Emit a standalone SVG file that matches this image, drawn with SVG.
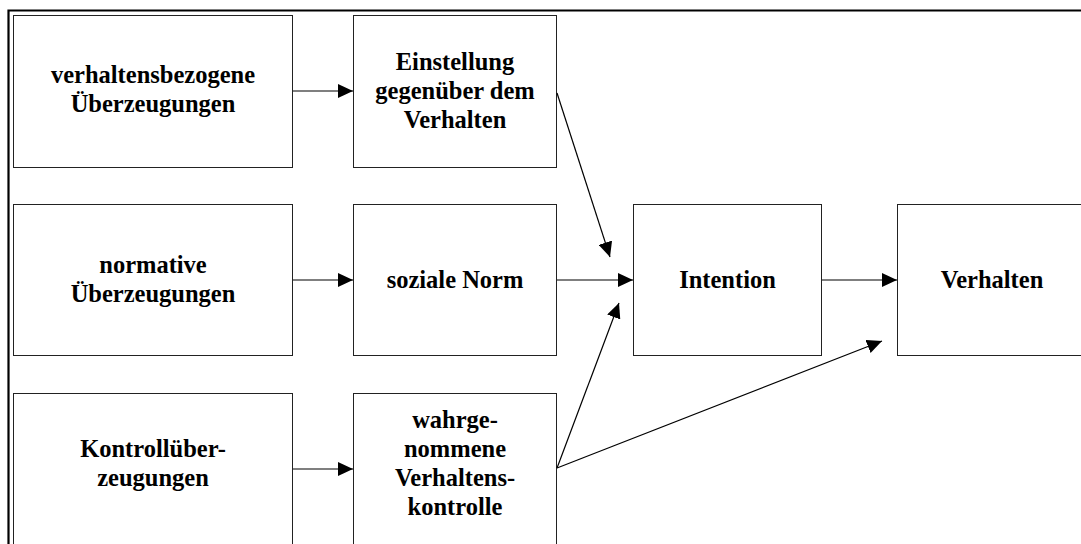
<svg xmlns="http://www.w3.org/2000/svg" width="1081" height="544" viewBox="0 0 1081 544">
<style>
.box{fill:#fff;stroke:#222;stroke-width:1}
.t{font-family:"Liberation Serif","Times New Roman",serif;font-weight:bold;font-size:24.5px;fill:#000;text-anchor:middle}
.c{fill:none;stroke:#000;stroke-width:1.2}
</style>
<defs>
<marker id="ah" viewBox="0 0 15 14" refX="15" refY="7" markerWidth="15" markerHeight="14" markerUnits="userSpaceOnUse" orient="auto">
<path d="M0,0 L15,7 L0,14 Z" fill="#000"/>
</marker>
</defs>
<rect x="0" y="0" width="1081" height="544" fill="#fff"/>
<path d="M8.5,544 V10.5 H1081" fill="none" stroke="#000" stroke-width="2.2"/>
<g id="n1"><rect class="box" x="13.5" y="15.5" width="279" height="152"/>
<text class="t" x="153" y="83">verhaltensbezogene</text><text class="t" x="153" y="112">Überzeugungen</text></g>
<g id="n2"><rect class="box" x="353.5" y="15.5" width="203" height="152"/>
<text class="t" x="455" y="70">Einstellung</text><text class="t" x="455" y="99">gegenüber dem</text><text class="t" x="455" y="128">Verhalten</text></g>
<g id="n3"><rect class="box" x="13.5" y="204.5" width="279" height="151"/>
<text class="t" x="153" y="273">normative</text><text class="t" x="153" y="302">Überzeugungen</text></g>
<g id="n4"><rect class="box" x="353.5" y="204.5" width="203" height="151"/>
<text class="t" x="455" y="288">soziale Norm</text></g>
<g id="n5"><rect class="box" x="633.5" y="204.5" width="188" height="151"/>
<text class="t" x="727.5" y="288">Intention</text></g>
<g id="n6"><rect class="box" x="897.5" y="204.5" width="190" height="151"/>
<text class="t" x="992" y="288">Verhalten</text></g>
<g id="n7"><rect class="box" x="13.5" y="393.5" width="279" height="160"/>
<text class="t" x="153" y="457">Kontrollüber-</text><text class="t" x="153" y="486">zeugungen</text></g>
<g id="n8"><rect class="box" x="353.5" y="393.5" width="203" height="160"/>
<text class="t" x="455" y="428">wahrge-</text><text class="t" x="455" y="457">nommene</text><text class="t" x="455" y="486">Verhaltens-</text><text class="t" x="455" y="515">kontrolle</text></g>
<g id="connectors">
<line class="c" x1="293" y1="91" x2="353" y2="91" marker-end="url(#ah)"/>
<line class="c" x1="293" y1="280" x2="353" y2="280" marker-end="url(#ah)"/>
<line class="c" x1="293" y1="469" x2="353" y2="469" marker-end="url(#ah)"/>
<line class="c" x1="557" y1="280" x2="633" y2="280" marker-end="url(#ah)"/>
<line class="c" x1="822" y1="280" x2="897" y2="280" marker-end="url(#ah)"/>
<line class="c" x1="557" y1="93" x2="610" y2="257" marker-end="url(#ah)"/>
<line class="c" x1="557" y1="468" x2="619" y2="303" marker-end="url(#ah)"/>
<line class="c" x1="557" y1="468" x2="882" y2="341" marker-end="url(#ah)"/>
</g>
</svg>
